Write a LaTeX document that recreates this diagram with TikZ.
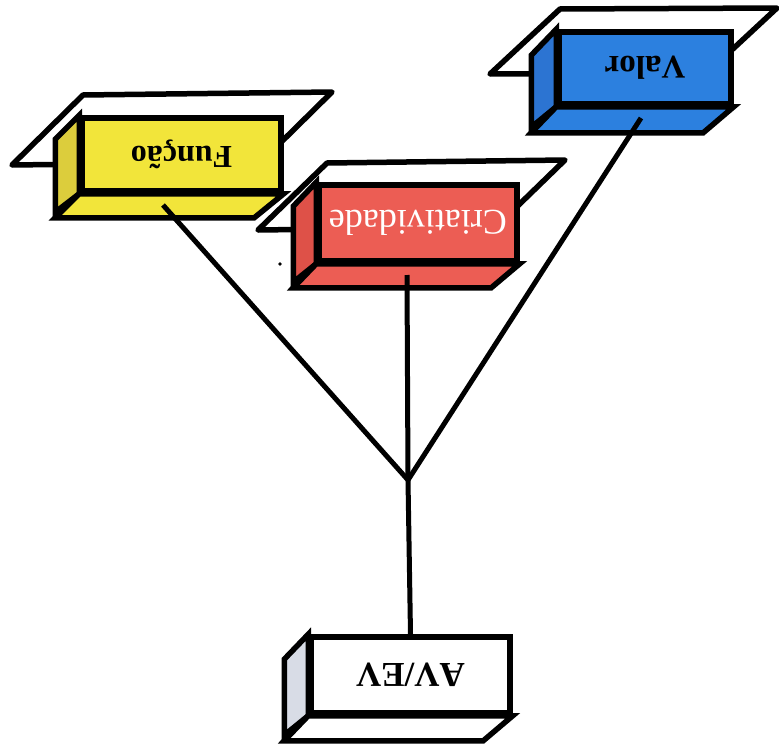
\documentclass[tikz,border=0pt]{standalone}
\usepackage{fontspec}
\setmainfont{Liberation Serif}[Kerning=Off]
\usepackage{xcolor}

\definecolor{funcaoyellow}{HTML}{F2E53A}
\definecolor{funcaoside}{HTML}{DCCD3C}
\definecolor{criared}{HTML}{EC5D54}
\definecolor{criaside}{HTML}{DE5148}
\definecolor{valorblue}{HTML}{2C80DF}
\definecolor{valorside}{HTML}{2C74D2}
\definecolor{avside}{HTML}{D8DCE6}

\begin{document}
\begin{tikzpicture}[x=1pt, y=-1pt, line join=miter,
    front/.style={draw, line width=5.5pt, inner sep=0pt, rotate=180},
    face/.style={draw, line width=5.5pt},
    plate/.style={draw, line width=5.5pt, line join=round, fill=white},
    link/.style={line width=5pt}]
                \useasboundingbox (0,0) rectangle (779,744);

                % Plates behind the boxes
                \draw[plate] (83,95) -- (332,92) -- (261,162) -- (12,165) -- cycle;
                \draw[plate] (327,163) -- (565,160) -- (496,227) -- (258,230) -- cycle;
                \draw[plate] (560,9) -- (777,8) -- (707,73) -- (490,74) -- cycle;

                % Funcao
                \node[front, fill=funcaoyellow, minimum width=199pt, minimum height=73pt,
                      font=\fontsize{32}{32}\selectfont\bfseries] (funcao) at (181.5,154.5) {Função};
                \draw[face, fill=funcaoside] (funcao.south east) -- ++(-24,24) -- ++(0,73) -- (funcao.north east) -- cycle;
                \draw[face, fill=funcaoyellow] (funcao.north east) -- ++(-24,24) -- ++(199,0) -- (funcao.north west) -- cycle;

                % Criatividade
                \node[front, fill=criared, minimum width=198pt, minimum height=76pt, text=white,
                      font=\fontsize{36}{36}\selectfont] (cria) at (418,223) {Criatividade};
                \draw[face, fill=criaside] (cria.south east) -- ++(-23,24) -- ++(0,76) -- (cria.north east) -- cycle;
                \draw[face, fill=criared] (cria.north east) -- ++(-23,24) -- ++(198,0) -- (cria.north west) -- cycle;

                % Valor
                \node[front, fill=valorblue, minimum width=172pt, minimum height=72pt,
                      font=\fontsize{33}{33}\selectfont\bfseries] (valor) at (645,68) {Valor};
                \draw[face, fill=valorside] (valor.south east) -- ++(-25,26) -- ++(0,72) -- (valor.north east) -- cycle;
                \draw[face, fill=valorblue] (valor.north east) -- ++(-25,26) -- ++(172,0) -- (valor.north west) -- cycle;

                % AV/EV
                \node[front, fill=white, minimum width=199pt, minimum height=76pt,
                      font=\fontsize{35}{35}\selectfont\bfseries] (avev) at (410.5,675) {AV/EV};
                \draw[face, fill=avside] (avev.south east) -- ++(-24,25) -- ++(0,76) -- (avev.north east) -- cycle;
                \draw[face, fill=white] (avev.north east) -- ++(-24,25) -- ++(199,0) -- (avev.north west) -- cycle;

                % Connectors
                \coordinate (hub) at (408,480);
                \coordinate (funcao-foot) at (163,205);
                \coordinate (cria-foot) at (407,275);
                \coordinate (valor-foot) at (641,118);
                \draw[link] (funcao-foot) -- (hub);
                \draw[link] (cria-foot) -- (hub);
                \draw[link] (valor-foot) -- (hub);
                \draw[link] (hub) -- (avev.south);

                \fill (280,264) circle (1.8);
\end{tikzpicture}
\end{document}
